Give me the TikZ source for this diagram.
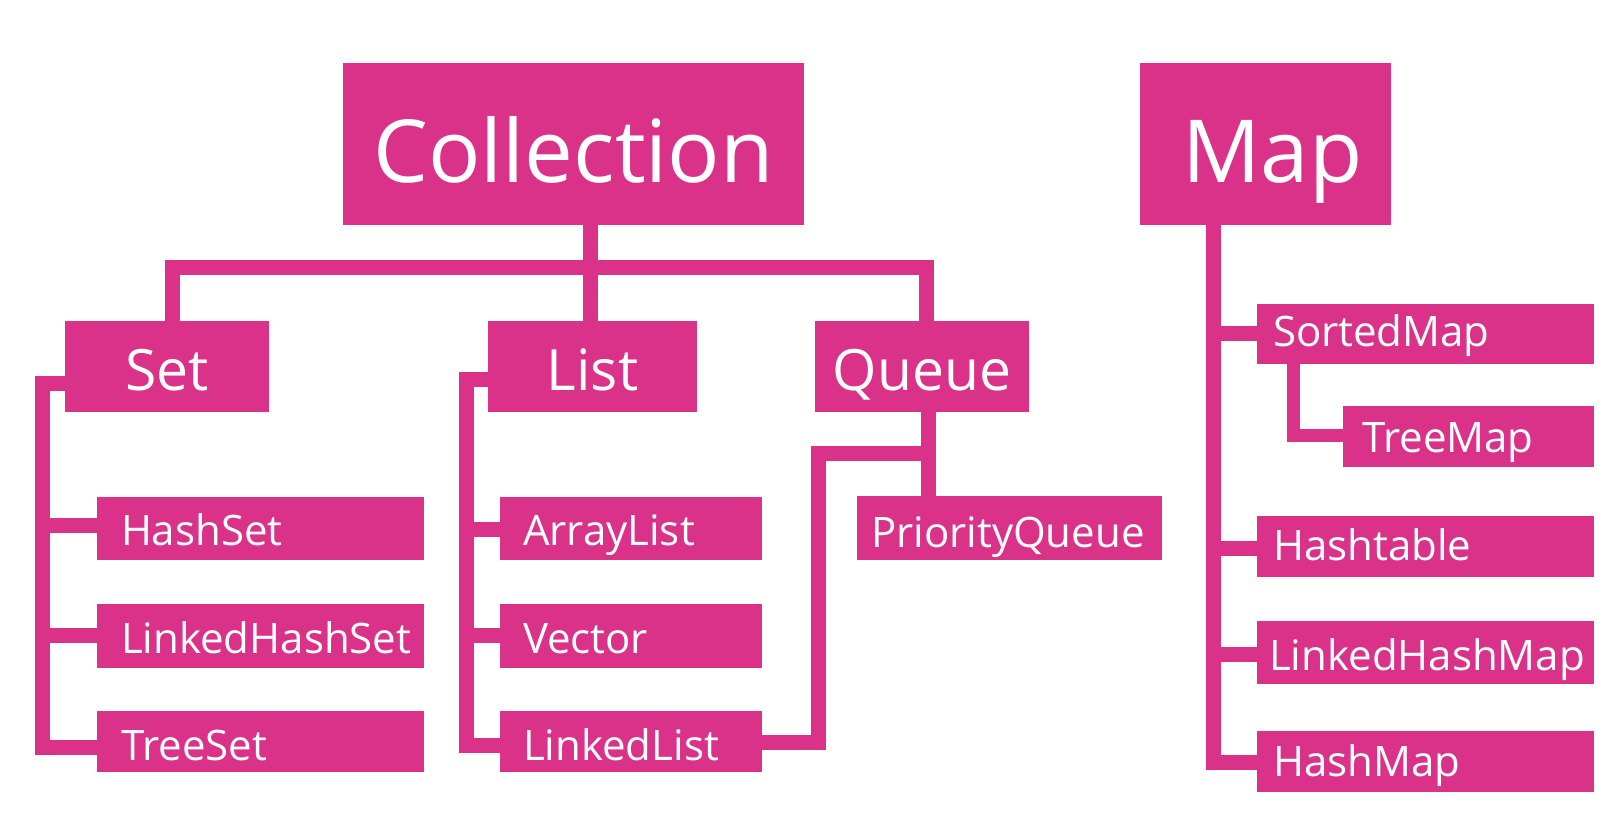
\documentclass[tikz,border=0pt]{standalone}
\usepackage{fontspec}
\setmainfont{Open Sans}
\definecolor{pk}{RGB}{218,50,136}
\begin{document}
\begin{tikzpicture}[x=1pt,y=-1pt,
  bx/.style={fill=pk, text=white, inner ysep=0pt, anchor=base west, outer sep=0pt},
  big/.style={bx, font=\fontsize{87}{90}\selectfont, align=center, inner xsep=0pt},
  mid/.style={bx, font=\fontsize{57}{60}\selectfont, align=center, inner xsep=0pt},
  sml/.style={bx, font=\fontsize{42}{46}\selectfont, align=left},
  conn/.style={draw=pk, line width=15pt, line join=miter}]
\useasboundingbox (0,0) rectangle (1606,822);
% top level
\node[big, text width=461pt, text height=119pt, text depth=43pt] (coll) at (343,182) {Collection};
\node[big, text width=251pt, text height=119pt, text depth=43pt, inner xsep=0pt] (map) at (1140,182) {\hspace*{14pt}Map};
% second level
\node[mid, text width=204pt, text height=69pt, text depth=22pt] (set) at (65,390) {Set};
\node[mid, text width=209pt, text height=69pt, text depth=22pt] (list) at (488,390) {List};
\node[mid, text width=214pt, text height=69pt, text depth=22pt] (queue) at (815,390) {Queue};
% set children
\node[sml, inner xsep=24pt, text width=279pt, text height=48pt, text depth=15pt] (hashset) at (97,545) {HashSet};
\node[sml, inner xsep=24pt, text width=279pt, text height=49pt, text depth=15pt] (lhset) at (97,653) {LinkedHashSet};
\node[sml, inner xsep=24pt, text width=279pt, text height=49pt, text depth=12pt] (treeset) at (97,760) {TreeSet};
% list children
\node[sml, inner xsep=23pt, text width=216pt, text height=48pt, text depth=15pt] (alist) at (500,545) {ArrayList};
\node[sml, inner xsep=23pt, text width=216pt, text height=49pt, text depth=15pt] (vector) at (500,653) {Vector};
\node[sml, inner xsep=23pt, text width=216pt, text height=49pt, text depth=12pt] (llist) at (500,760) {LinkedList};
% queue child
\node[sml, inner xsep=14pt, text width=277pt, text height=51pt, text depth=13pt] (pq) at (857,547) {PriorityQueue};
% map children
\node[sml, inner xsep=16pt, text width=305pt, text height=42pt, text depth=18pt] (smap) at (1257,346) {SortedMap};
\node[sml, inner xsep=19pt, text width=213pt, text height=46pt, text depth=15pt] (tmap) at (1343,452) {TreeMap};
\node[sml, inner xsep=16pt, text width=305pt, text height=44pt, text depth=17pt] (htable) at (1257,560) {Hashtable};
\node[sml, inner xsep=12pt, text width=313pt, text height=49pt, text depth=14pt] (lhmap) at (1257,670) {LinkedHashMap};
\node[sml, inner xsep=16pt, text width=305pt, text height=45pt, text depth=16pt] (hmap) at (1257,776) {HashMap};
% collection connectors
\draw[conn] (coll.south -| 590,0) -- (list.north -| 590,0);
\draw[conn] (set.north -| 172,0) -- (172,267.5) -- (926,267.5) -- (queue.north -| 926,0);
% set connectors
\draw[conn] (set.west |- 0,383) -- (42,383) -- (42,747.5) -- (treeset.west |- 0,747.5);
\draw[conn] (42,525.5) -- (hashset.west |- 0,525.5);
\draw[conn] (42,635) -- (lhset.west |- 0,635);
% list connectors
\draw[conn] (list.west |- 0,379) -- (466,379) -- (466,745) -- (llist.west |- 0,745);
\draw[conn] (466,529.5) -- (alist.west |- 0,529.5);
\draw[conn] (466,635) -- (vector.west |- 0,635);
% queue connectors
\draw[conn] (queue.south -| 928,0) -- (pq.north -| 928,0);
\draw[conn] (928,453) -- (818.5,453) -- (818.5,742) -- (llist.east |- 0,742);
% map connectors
\draw[conn] (map.south -| 1213,0) -- (1213,762.5) -- (hmap.west |- 0,762.5);
\draw[conn] (1213,333) -- (smap.west |- 0,333);
\draw[conn] (1213,548) -- (htable.west |- 0,548);
\draw[conn] (1213,654) -- (lhmap.west |- 0,654);
\draw[conn, line width=13pt] (smap.south -| 1293,0) -- (1293,435) -- (tmap.west |- 0,435);
\end{tikzpicture}
\end{document}
